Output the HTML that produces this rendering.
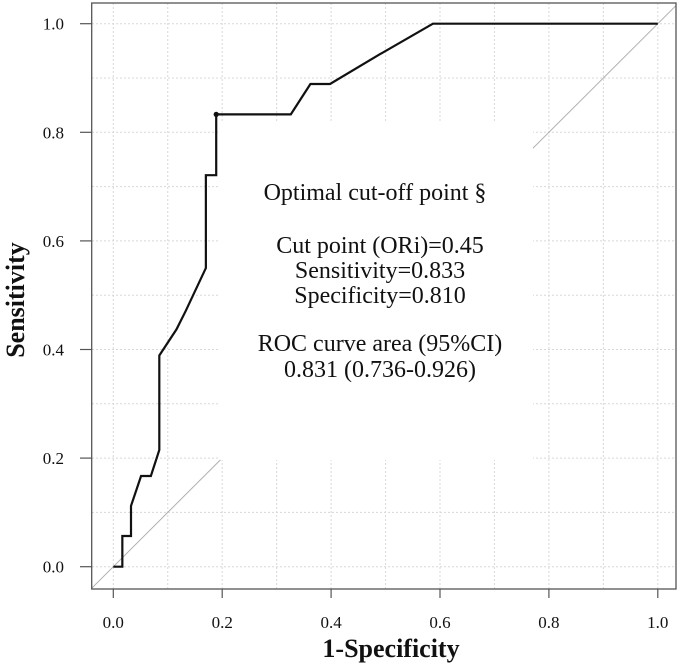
<!DOCTYPE html>
<html><head><meta charset="utf-8"><style>
html,body{margin:0;padding:0;background:#fff;}
svg{display:block;font-family:"Liberation Serif",serif;}
</style></head><body>
<svg id="chart" width="685" height="670" viewBox="0 0 685 670" xmlns="http://www.w3.org/2000/svg">
<defs><clipPath id="plotclip"><rect x="92" y="3" width="584" height="586"/></clipPath></defs>
<g id="grid"></g>
<g id="diag" clip-path="url(#plotclip)"></g>
<rect x="220" y="122" width="313" height="338" fill="#fff"/>
<g id="curve"></g>
<rect x="91.7" y="3" width="584.3" height="586" fill="none" stroke="#555" stroke-width="1.3"/>
<g id="axes"></g>
<g font-size="24" text-anchor="middle" fill="#111">
<text x="375" y="200">Optimal cut-off point §</text>
<text x="380" y="253">Cut point (ORi)=0.45</text>
<text x="380" y="278">Sensitivity=0.833</text>
<text x="380" y="303">Specificity=0.810</text>
<text x="380" y="351">ROC curve area (95%CI)</text>
<text x="380" y="377">0.831 (0.736-0.926)</text>
</g>
<text x="391" y="657" font-size="26" font-weight="bold" text-anchor="middle" fill="#111">1-Specificity</text>
<text transform="translate(24,300) rotate(-90)" font-size="26" font-weight="bold" text-anchor="middle" fill="#111">Sensitivity</text>
</svg>
<script>
const fprValues = [0, 0.0166, 0.0166, 0.0325, 0.0325, 0.051, 0.069, 0.0845, 0.0845, 0.116, 0.133, 0.170, 0.170, 0.189, 0.189, 0.326, 0.362, 0.398, 0.49, 0.587, 1.0];
const tprValues = [0, 0, 0.0565, 0.0565, 0.112, 0.167, 0.167, 0.215, 0.389, 0.437, 0.471, 0.55, 0.721, 0.721, 0.833, 0.833, 0.889, 0.889, 0.944, 1.0, 1.0];
const cutFpr = [0.189];
const cutTpr = [0.833];
const tickValues = [0, 0.2, 0.4, 0.6, 0.8, 1.0];
const tickLabels = ["0.0", "0.2", "0.4", "0.6", "0.8", "1.0"];
const gridValues = [0, 0.1, 0.2, 0.3, 0.4, 0.5, 0.6, 0.7, 0.8, 0.9, 1.0];

const NS = "http://www.w3.org/2000/svg";
const X0 = 113.3, X1 = 657.8, Y0 = 566.7, Y1 = 23.7;
function sx(v){ return X0 + v * (X1 - X0); }
function sy(v){ return Y0 - v * (Y0 - Y1); }
function mk(tag, attrs, parent){
  const e = document.createElementNS(NS, tag);
  for (const k in attrs) e.setAttribute(k, attrs[k]);
  parent.appendChild(e);
  return e;
}
const grid = document.getElementById('grid');
gridValues.forEach(v => {
  const a = mk('line', {x1: sx(v), x2: sx(v), y1: 3, y2: 589, stroke: '#d8d8d8', 'stroke-width': 1, 'stroke-dasharray': '2,2'}, grid);
  
  
  const b = mk('line', {x1: 92, x2: 676, y1: sy(v), y2: sy(v), stroke: '#d8d8d8', 'stroke-width': 1, 'stroke-dasharray': '2,2'}, grid);
  
  
});
const diag = document.getElementById('diag');
const d = mk('line', {x1: sx(-0.1), y1: sy(-0.1), x2: sx(1.1), y2: sy(1.1), stroke: '#b0b0b0', 'stroke-width': 1}, diag);



const curve = document.getElementById('curve');
const pts = fprValues.map((f, i) => sx(f).toFixed(2) + ',' + sy(tprValues[i]).toFixed(2)).join(' ');
const pl = mk('polyline', {points: pts, fill: 'none', stroke: '#111', 'stroke-width': 2.2, 'stroke-linejoin': 'miter'}, curve);


cutFpr.forEach((f, i) => {
  const c = mk('circle', {cx: sx(f), cy: sy(cutTpr[i]), r: 2.6, fill: '#111'}, curve);
  
  
});

const axes = document.getElementById('axes');
tickValues.forEach((v, i) => {
  const t1 = mk('line', {x1: sx(v), x2: sx(v), y1: 589, y2: 598, stroke: '#555', 'stroke-width': 1.2}, axes);
  
  
  const l1 = mk('text', {x: sx(v), y: 628, 'font-size': 17, 'text-anchor': 'middle', fill: '#111'}, axes);
  l1.textContent = tickLabels[i];
  
  
  const t2 = mk('line', {x1: 80, x2: 91.7, y1: sy(v), y2: sy(v), stroke: '#555', 'stroke-width': 1.2}, axes);
  
  
  const l2 = mk('text', {x: 64, y: sy(v) + 6, 'font-size': 17, 'text-anchor': 'end', fill: '#111'}, axes);
  l2.textContent = tickLabels[i];
  
  
});
</script>
</body></html>
